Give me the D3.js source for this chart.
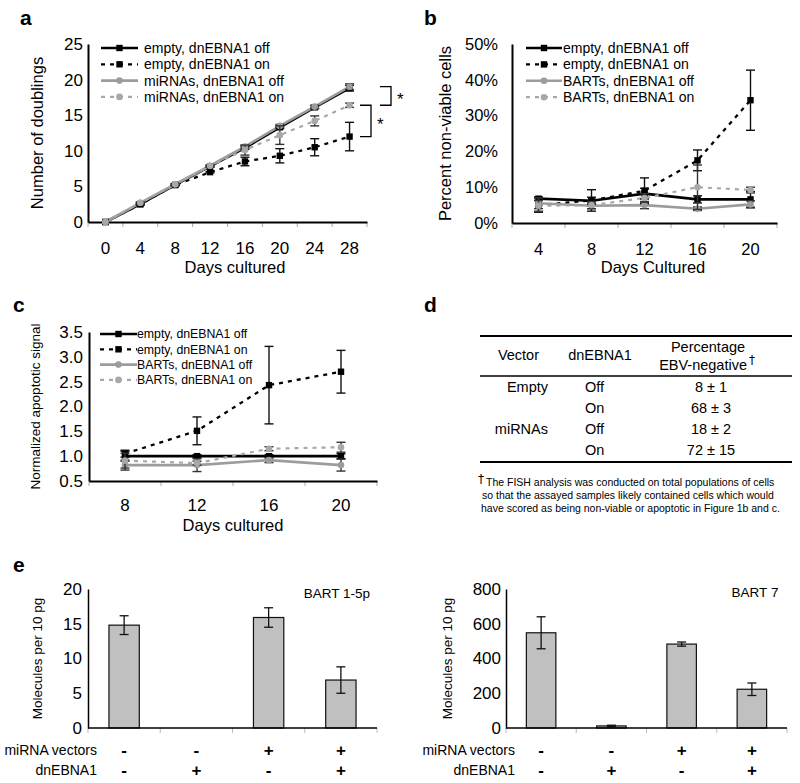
<!DOCTYPE html>
<html><head><meta charset="utf-8">
<script src="https://cdn.jsdelivr.net/npm/d3@7"></script>
<style>body{margin:0;background:#fff}</style>
</head><body>
<script>
// ---------- DATA ----------
// Panel a
const daysA = ["0","4","8","12","16","20","24","28"];
const aEmptyOff    = [0, 2.5, 5.2, 7.8, 10.4, 13.3, 16.1, 18.8];
const aEmptyOffErr = [0, 0.1, 0.1, 0.1, 0.2, 0.2, 0.2, 0.4];
const aEmptyOn     = [0, 2.5, 5.2, 7.0, 8.5, 9.3, 10.5, 12.0];
const aEmptyOnErr  = [0, 0.1, 0.1, 0.1, 0.6, 1.0, 1.2, 2.0];
const aMirOff      = [0, 2.7, 5.3, 7.9, 10.6, 13.5, 16.2, 19.0];
const aMirOffErr   = [0, 0.1, 0.1, 0.1, 0.2, 0.2, 0.2, 0.4];
const aMirOn       = [0, 2.7, 5.3, 7.9, 10.1, 12.2, 14.2, 16.4];
const aMirOnErr    = [0, 0.1, 0.1, 0.1, 0.7, 1.3, 0.7, 0.3];
const aLegend = ["empty, dnEBNA1 off","empty, dnEBNA1 on","miRNAs, dnEBNA1 off","miRNAs, dnEBNA1 on"];
const aYTicks = [0,5,10,15,20,25];
// Panel b
const daysB = ["4","8","12","16","20"];
const bEmptyOff    = [6.8, 6.2, 8.2, 6.6, 6.6];
const bEmptyOffErr = [0.5, 1.0, 1.5, 1.0, 2.2];
const bEmptyOn     = [5.0, 6.3, 9.0, 17.5, 34.3];
const bEmptyOnErr  = [2.0, 3.0, 3.6, 2.9, 8.4];
const bBartsOff    = [5.5, 4.8, 5.0, 4.0, 5.2];
const bBartsOffErr = [1.5, 0.8, 1.0, 0.5, 1.0];
const bBartsOn     = [4.8, 5.0, 7.0, 10.0, 9.2];
const bBartsOnErr  = [1.5, 1.0, 1.2, 6.2, 0.8];
const bLegend = ["empty, dnEBNA1 off","empty, dnEBNA1 on","BARTs, dnEBNA1 off","BARTs, dnEBNA1 on"];
const bYTicks = [0,10,20,30,40,50];
// Panel c
const daysC = ["8","12","16","20"];
const cEmptyOff    = [1.0, 1.0, 1.0, 1.0];
const cEmptyOffErr = [0.1, 0.03, 0.03, 0.05];
const cEmptyOn     = [1.05, 1.51, 2.43, 2.70];
const cEmptyOnErr  = [0.07, 0.28, 0.78, 0.43];
const cBartsOff    = [0.82, 0.82, 0.92, 0.82];
const cBartsOffErr = [0.1, 0.13, 0.05, 0.12];
const cBartsOn     = [0.91, 0.86, 1.15, 1.18];
const cBartsOnErr  = [0.15, 0.04, 0.04, 0.1];
const cLegend = ["empty, dnEBNA1 off","empty, dnEBNA1 on","BARTs, dnEBNA1 off","BARTs, dnEBNA1 on"];
const cYTicks = [0.5,1.0,1.5,2.0,2.5,3.0,3.5];
// Panel d
const dHeaders = ["Vector","dnEBNA1","Percentage","EBV-negative"];
const dVector = ["Empty","","miRNAs",""];
const dDn = ["Off","On","Off","On"];
const dPct = ["8 ± 1","68 ± 3","18 ± 2","72 ± 15"];
const dNote = ["The FISH analysis was conducted on total populations of cells",
               "so that the assayed samples likely contained cells which would",
               "have scored as being non-viable or apoptotic in Figure 1b and c."];
// Panel e
const eGroups = ["g1","g2","g3","g4"];
const eMirna = ["-","-","+","+"];
const eDn = ["-","+","-","+"];
const eBart15 = [14.8, 0, 15.9, 6.9];
const eBart15Err = [1.35, 0, 1.4, 1.9];
const eBart7 = [548, 12, 483, 223];
const eBart7Err = [92, 4, 12, 36];
const eYTicks15 = [0,5,10,15,20];
const eYTicks7 = [0,200,400,600,800];

// ---------- DRAW ----------
const FONT = "'Liberation Sans', Arial, Helvetica, sans-serif";
const svg = d3.select("body").append("svg").attr("width",800).attr("height",783)
  .style("font-family",FONT).attr("fill","#000");

const BLACK = "#000", GRAY = "#9c9c9c", LGRAY = "#a8a8a8";

function styleAxis(sel, fs){
  sel.attr("font-family",FONT).attr("font-size",fs);
  sel.selectAll("text").attr("fill","#000");
}

function panelLabel(t,x,y){
  svg.append("text").attr("x",x).attr("y",y).attr("font-size",21).attr("font-weight","bold").attr("fill","#000").text(t);
}

function drawMarker(g, type, cx, cy, color){
  if(type==="square"){
    g.append("rect").attr("x",cx-3.2).attr("y",cy-3.2).attr("width",6.4).attr("height",6.4).attr("fill",color);
  } else {
    g.append("circle").attr("cx",cx).attr("cy",cy).attr("r",3.3).attr("fill",color);
  }
}

function linePanel(p){
  const x = d3.scaleBand().domain(p.cats).range([p.x0,p.x1]).padding(0);
  const y = d3.scaleLinear().domain(p.domain).range([p.yBot,p.yTop]);
  const g = svg.append("g");
  const bounds = p.cats.map(c=>x(c)).concat([p.x1]);
  g.selectAll(".bt").data(bounds).join("line")
    .attr("x1",d=>d).attr("x2",d=>d).attr("y1",p.yBot).attr("y2",p.yBot+5)
    .attr("stroke","#aaa").attr("stroke-width",1);
  const ya = d3.axisLeft(y).tickValues(p.ticks).tickFormat(p.fmt).tickSize(0).tickPadding(p.yPad);
  g.append("g").attr("transform",`translate(${p.x0},0)`).call(ya)
    .call(s=>{styleAxis(s,p.tickFont); s.select(".domain").attr("stroke","#000").attr("stroke-width",2);});
  const xa = d3.axisBottom(x).tickSize(0).tickPadding(p.xPad);
  g.append("g").attr("transform",`translate(0,${p.yBot})`).call(xa)
    .call(s=>{styleAxis(s,p.tickFont); s.select(".domain").attr("stroke","#000").attr("stroke-width",2);});
  g.append("text").attr("x",p.xTitleX).attr("y",p.xTitleY).attr("text-anchor","middle")
    .attr("font-size",p.titleFont).text(p.xTitle);
  g.append("text").attr("transform",`translate(${p.yTitleX},${(p.yTop+p.yBot)/2}) rotate(-90)`)
    .attr("text-anchor","middle").attr("dy","0.35em").attr("font-size",p.yTitleFont).text(p.yTitle);
  const cx = c => x(c)+x.bandwidth()/2;
  p.series.forEach(s=>{
    const pts = p.cats.map((c,i)=>({c, v:s.vals[i], e:s.errs[i]}));
    const line = d3.line().x(d=>cx(d.c)).y(d=>y(d.v));
    g.append("path").datum(pts).attr("d",line).attr("fill","none")
      .attr("stroke",s.color).attr("stroke-width",s.width).attr("stroke-dasharray",s.dash||null);
  });
  p.series.forEach(s=>{
    const pts = p.cats.map((c,i)=>({c, v:s.vals[i], e:s.errs[i]}));
    pts.forEach(d=>{
      if(d.e>0){
        const X = cx(d.c), y1 = y(d.v+d.e), y2 = y(d.v-d.e), w = 4.5;
        g.append("line").attr("x1",X).attr("x2",X).attr("y1",y1).attr("y2",y2).attr("stroke",s.errColor).attr("stroke-width",1.4);
        [y1,y2].forEach(yy=>g.append("line").attr("x1",X-w).attr("x2",X+w).attr("y1",yy).attr("y2",yy).attr("stroke",s.errColor).attr("stroke-width",1.4));
      }
      drawMarker(g, s.marker, cx(d.c), y(d.v), s.color);
    });
  });
  p.series.forEach((s,i)=>{
    const ly = p.legY + i*p.legStep;
    g.append("line").attr("x1",p.legX0).attr("x2",p.legX1).attr("y1",ly).attr("y2",ly)
      .attr("stroke",s.color).attr("stroke-width",s.width).attr("stroke-dasharray",s.dash||null);
    drawMarker(g, s.marker, (p.legX0+p.legX1)/2, ly, s.color);
    g.append("text").attr("x",p.legTx).attr("y",ly).attr("dy","0.36em").attr("font-size",p.legFont).text(p.legend[i]);
  });
  return {x,y,g};
}

function seriesSet(v1,e1,v2,e2,v3,e3,v4,e4){
  return [
    {vals:v1, errs:e1, color:BLACK, width:2.6, marker:"square", errColor:"#111"},
    {vals:v2, errs:e2, color:BLACK, width:2.3, dash:"4,5", marker:"square", errColor:"#111"},
    {vals:v3, errs:e3, color:GRAY, width:2.6, marker:"circle", errColor:"#333"},
    {vals:v4, errs:e4, color:LGRAY, width:2.2, dash:"4,5", marker:"circle", errColor:"#333"}
  ];
}

// ----- Panel a -----
panelLabel("a",20,25);
const pa = linePanel({
  cats:daysA, x0:88, x1:367, yTop:44, yBot:222, domain:[0,25], ticks:aYTicks, fmt:d3.format("d"),
  tickFont:17, yPad:5, xPad:20, xTitle:"Days cultured", xTitleX:235, xTitleY:273, titleFont:16.5,
  yTitle:"Number of doublings", yTitleX:37, yTitleFont:16.5,
  series: seriesSet(aEmptyOff,aEmptyOffErr,aEmptyOn,aEmptyOnErr,aMirOff,aMirOffErr,aMirOn,aMirOnErr),
  legend:aLegend, legX0:101, legX1:138, legTx:144, legY:48, legStep:16.3, legFont:14
});
{
  const y = pa.y;
  const yTopB = y(aMirOff[7]), yMid = y(aMirOn[7]), yBotB = y(aEmptyOn[7]);
  const b = svg.append("g").attr("fill","none").attr("stroke","#000").attr("stroke-width",1.3);
  b.append("path").attr("d",`M380,${yTopB}H391V${yMid}H380`);
  b.append("path").attr("d",`M360,${yMid}H371V${yBotB}H360`);
  svg.append("text").attr("x",397).attr("y",(yTopB+yMid)/2+9).attr("font-size",17).text("*");
  svg.append("text").attr("x",377).attr("y",(yMid+yBotB)/2+9).attr("font-size",17).text("*");
}

// ----- Panel b -----
panelLabel("b",424,25);
linePanel({
  cats:daysB, x0:512, x1:777, yTop:44, yBot:223, domain:[0,50], ticks:bYTicks, fmt:d=>d+"%",
  tickFont:16.5, yPad:14, xPad:20, xTitle:"Days Cultured", xTitleX:653, xTitleY:273, titleFont:16.5,
  yTitle:"Percent non-viable cells", yTitleX:445, yTitleFont:16.5,
  series: seriesSet(bEmptyOff,bEmptyOffErr,bEmptyOn,bEmptyOnErr,bBartsOff,bBartsOffErr,bBartsOn,bBartsOnErr),
  legend:bLegend, legX0:526, legX1:562, legTx:563, legY:48, legStep:16.4, legFont:14
});

// ----- Panel c -----
panelLabel("c",13,312);
linePanel({
  cats:daysC, x0:89, x1:377, yTop:332, yBot:481, domain:[0.5,3.5], ticks:cYTicks, fmt:d3.format(".1f"),
  tickFont:17, yPad:6, xPad:18, xTitle:"Days cultured", xTitleX:233, xTitleY:531, titleFont:16.5,
  yTitle:"Normalized apoptotic signal", yTitleX:35, yTitleFont:13.5,
  series: seriesSet(cEmptyOff,cEmptyOffErr,cEmptyOn,cEmptyOnErr,cBartsOff,cBartsOffErr,cBartsOn,cBartsOnErr),
  legend:cLegend, legX0:100, legX1:137, legTx:137, legY:334, legStep:15.3, legFont:12.3
});

// ----- Panel d -----
panelLabel("d",424,312);
{
  const g = svg.append("g").attr("font-size",14.5).attr("fill","#000");
  g.append("line").attr("x1",480).attr("x2",792).attr("y1",336).attr("y2",336).attr("stroke","#000").attr("stroke-width",2);
  g.append("line").attr("x1",480).attr("x2",792).attr("y1",376).attr("y2",376).attr("stroke","#000").attr("stroke-width",1.5);
  g.append("line").attr("x1",480).attr("x2",792).attr("y1",462).attr("y2",462).attr("stroke","#000").attr("stroke-width",2);
  g.append("text").attr("x",539).attr("y",360).attr("text-anchor","end").text(dHeaders[0]);
  g.append("text").attr("x",600).attr("y",360).attr("text-anchor","middle").text(dHeaders[1]);
  g.append("text").attr("x",708).attr("y",352).attr("text-anchor","middle").text(dHeaders[2]);
  g.append("text").attr("x",747).attr("y",370).attr("text-anchor","end").text(dHeaders[3]);
  g.append("text").attr("x",749).attr("y",364).attr("font-size",12).attr("font-family","'DejaVu Sans', sans-serif").attr("fill","#000").text("\u2020");
  const rowY = [392,413,434,455];
  dVector.forEach((v,i)=>{ if(v) g.append("text").attr("x",548).attr("y",rowY[i]).attr("text-anchor","end").text(v); });
  dDn.forEach((v,i)=> g.append("text").attr("x",585).attr("y",rowY[i]).text(v));
  dPct.forEach((v,i)=> g.append("text").attr("x",711).attr("y",rowY[i]).attr("text-anchor","middle").text(v));
  const n = svg.append("g").attr("font-size",10.5).attr("fill","#000");
  n.append("text").attr("x",478).attr("y",483).attr("font-size",12).attr("font-family","'DejaVu Sans', sans-serif").text("\u2020");
  const nx = [486,482,481], ny = [486,499,512];
  dNote.forEach((s,i)=> n.append("text").attr("x",nx[i]).attr("y",ny[i]).text(s));
}

// ----- Panel e -----
panelLabel("e",13,572);
function barPanel(p){
  const x = d3.scaleBand().domain(eGroups).range([p.x0,p.x1]).padding(0);
  const y = d3.scaleLinear().domain(p.domain).range([p.yBot,p.yTop]);
  const g = svg.append("g");
  const bounds = eGroups.map(c=>x(c)).concat([p.x1]);
  g.selectAll(".bt").data(bounds).join("line")
    .attr("x1",d=>d).attr("x2",d=>d).attr("y1",p.yBot).attr("y2",p.yBot+5)
    .attr("stroke","#bbb").attr("stroke-width",1);
  const bw = x.bandwidth()*0.42;
  g.selectAll(".bar").data(p.vals).join("rect")
    .attr("x",(d,i)=>x(eGroups[i])+x.bandwidth()/2-bw/2).attr("width",bw)
    .attr("y",d=>y(d)).attr("height",d=>p.yBot-y(d))
    .attr("fill",d=>d>0?"#c0c0c0":"none").attr("stroke",d=>d>0?"#111":"none").attr("stroke-width",1.2);
  p.vals.forEach((v,i)=>{
    const e = p.errs[i]; if(!(e>0)) return;
    const X = x(eGroups[i])+x.bandwidth()/2, y1=y(v+e), y2=y(v-e), w=4.5;
    g.append("line").attr("x1",X).attr("x2",X).attr("y1",y1).attr("y2",y2).attr("stroke","#111").attr("stroke-width",1.3);
    [y1,y2].forEach(yy=>g.append("line").attr("x1",X-w).attr("x2",X+w).attr("y1",yy).attr("y2",yy).attr("stroke","#111").attr("stroke-width",1.3));
  });
  const ya = d3.axisLeft(y).tickValues(p.ticks).tickFormat(d3.format("d")).tickSize(0).tickPadding(p.yPad);
  g.append("g").attr("transform",`translate(${p.x0},0)`).call(ya)
    .call(s=>{styleAxis(s,17); s.select(".domain").attr("stroke","#000").attr("stroke-width",1.5);});
  g.append("line").attr("x1",p.x0).attr("x2",p.x1).attr("y1",p.yBot).attr("y2",p.yBot).attr("stroke","#000").attr("stroke-width",1.5);
  g.append("text").attr("transform",`translate(${p.yTitleX},${(p.yTop+p.yBot)/2}) rotate(-90)`)
    .attr("text-anchor","middle").attr("dy","0.35em").attr("font-size",13.5).text("Molecules per 10 pg");
  g.append("text").attr("x",p.titleX).attr("y",p.titleY).attr("text-anchor","middle").attr("font-size",13.5).text(p.title);
  g.append("text").attr("x",p.rowLabX).attr("y",755).attr("text-anchor","end").attr("font-size",14).text("miRNA vectors");
  g.append("text").attr("x",p.rowLabX).attr("y",775).attr("text-anchor","end").attr("font-size",14).text("dnEBNA1");
  eMirna.forEach((s,i)=> g.append("text").attr("x",x(eGroups[i])+x.bandwidth()/2).attr("y",756).attr("text-anchor","middle").attr("font-size",17).attr("font-weight","bold").text(s));
  eDn.forEach((s,i)=> g.append("text").attr("x",x(eGroups[i])+x.bandwidth()/2).attr("y",776).attr("text-anchor","middle").attr("font-size",17).attr("font-weight","bold").text(s));
}
barPanel({x0:88, x1:377, yTop:589, yBot:728, domain:[0,20], ticks:eYTicks15, vals:eBart15, errs:eBart15Err,
  yPad:6, yTitleX:37, title:"BART 1-5p", titleX:337, titleY:598, rowLabX:97});
barPanel({x0:506, x1:787, yTop:589, yBot:728, domain:[0,800], ticks:eYTicks7, vals:eBart7, errs:eBart7Err,
  yPad:5, yTitleX:447, title:"BART 7", titleX:755, titleY:597, rowLabX:515});
</script>
</body></html>
